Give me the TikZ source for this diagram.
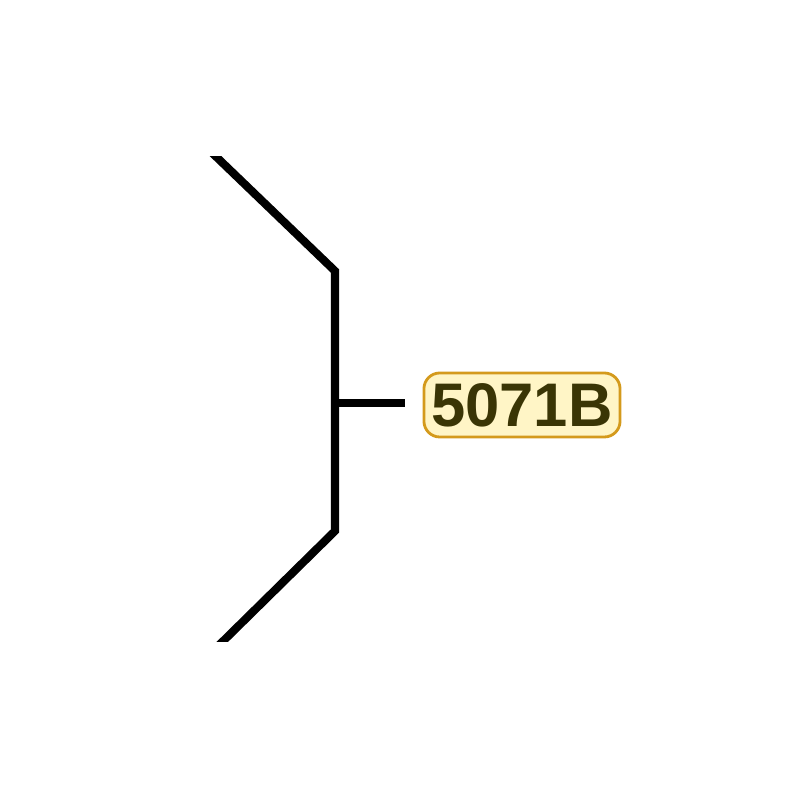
\documentclass[tikz,border=0pt]{standalone}
\usepackage{fontspec}
\setmainfont{Liberation Sans}
\usetikzlibrary{positioning}
\definecolor{tagfill}{HTML}{FFF5C6}
\definecolor{tagedge}{HTML}{D49A1C}
\definecolor{tagtext}{HTML}{3A3505}
\tikzset{
  wire/.style={line width=2.3pt,black},
  tag/.style={draw=tagedge,fill=tagfill,text=tagtext,rounded corners=4.5pt,line width=0.8pt,
    minimum width=1.96cm,minimum height=0.64cm,inner sep=0pt,
    font=\fontsize{17.5}{18}\selectfont\bfseries}
}
\begin{document}
\begin{tikzpicture}[x=0.01cm,y=0.01cm]
            \useasboundingbox (0,0) rectangle (800,800);
            \coordinate (top) at (205,654);
            \coordinate (kneeA) at (335,529);
            \coordinate (mid) at (335,397);
            \coordinate (kneeB) at (335,269);
            \coordinate (bot) at (210,146);
            \begin{scope}
                \clip (0,158) rectangle (800,643);
                \draw [wire,line join=miter] (top) -- (kneeA) -- (kneeB) -- (bot);
            \end{scope}
            \node[tag] (lbl) at (522,395) {5071B};
            \coordinate[left=0.18cm of lbl.west] (tip);
            \draw [wire] (mid) -- (tip |- mid);
        \end{tikzpicture}
\end{document}
